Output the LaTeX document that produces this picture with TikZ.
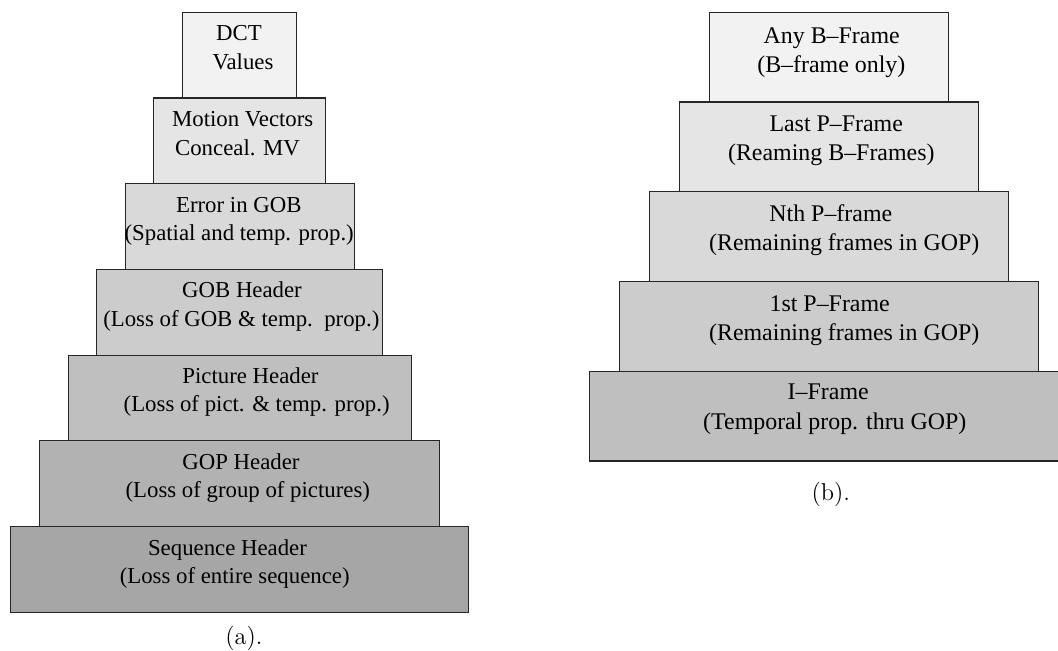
\documentclass[tikz,border=0pt]{standalone}
\usepackage{fontspec}
\newfontfamily\tms{Liberation Serif}
\begin{document}
\begin{tikzpicture}[x=0.5pt,y=-0.5pt,
  layer/.style={draw=black!85, line width=0.55pt, rectangle, inner sep=0pt},
  ltxt/.style={anchor=base, inner sep=0pt, font=\tms\fontsize{11.4}{13}\selectfont},
  rtxt/.style={anchor=base, inner sep=0pt, font=\tms\fontsize{11.95}{14}\selectfont},
  captxt/.style={anchor=base, inner sep=0pt, font=\fontsize{12.2}{14}\selectfont}]
\clip (0,0) rectangle (1058,651);

% (a) MPEG stream layers, from the top of the pyramid down
\node[layer, fill=black!5,  minimum width=57.2pt,  minimum height=42.85pt] (dct) at (239.7,55.15) {};
\node[layer, fill=black!10, minimum width=85.8pt,  minimum height=42.85pt] (mv)  at (239.7,140.85) {};
\node[layer, fill=black!15, minimum width=114.4pt, minimum height=42.85pt] (err) at (239.7,226.55) {};
\node[layer, fill=black!20, minimum width=143pt,   minimum height=42.85pt] (gob) at (239.7,312.25) {};
\node[layer, fill=black!25, minimum width=171.6pt, minimum height=42.85pt] (pic) at (239.7,397.95) {};
\node[layer, fill=black!30, minimum width=200.2pt, minimum height=42.85pt] (gop) at (239.7,483.65) {};
\node[layer, fill=black!35, minimum width=228.8pt, minimum height=42.85pt] (seq) at (239.7,569.35) {};

\node[ltxt] (dct-a) at (239,41) {DCT};
\node[ltxt] (dct-b) at (243,70) {Values};
\node[ltxt] (mv-a)  at (242.7,127) {Motion Vectors};
\node[ltxt] (mv-b)  at (237.5,155.5) {Conceal. MV};
\node[ltxt] (err-a) at (238.8,212.3) {Error in GOB};
\node[ltxt] (err-b) at (239.2,240.8) {(Spatial and temp. prop.)};
\node[ltxt] (gob-a) at (242,297.7) {GOB Header};
\node[ltxt] (gob-b) at (241.3,326.2) {(Loss of GOB \& temp.~\ prop.)};
\node[ltxt] (pic-a) at (250.5,383.3) {Picture Header};
\node[ltxt] (pic-b) at (256.7,411.8) {(Loss of pict. \& temp. prop.)};
\node[ltxt] (gop-a) at (241,469) {GOP Header};
\node[ltxt] (gop-b) at (247.8,497.5) {(Loss of group of pictures)};
\node[ltxt] (seq-a) at (227.5,555) {Sequence Header};
\node[ltxt] (seq-b) at (234.7,583.5) {(Loss of entire sequence)};

\node[captxt] (capa) at (244,644) {(a).};

% (b) frame types, from the top of the pyramid down
\node[layer, fill=black!5,  minimum width=119.5pt, minimum height=44.87pt] (bfr)  at (828.8,57.17) {};
\node[layer, fill=black!10, minimum width=149.5pt, minimum height=44.87pt] (lpf)  at (828.8,146.9) {};
\node[layer, fill=black!15, minimum width=179.5pt, minimum height=44.87pt] (npf)  at (828.8,236.65) {};
\node[layer, fill=black!20, minimum width=209.5pt, minimum height=44.87pt] (fpf)  at (828.8,326.4) {};
\node[layer, fill=black!25, minimum width=239.5pt, minimum height=44.87pt] (ifr)  at (828.8,416.1) {};

\node[rtxt] (bfr-a) at (831.7,43.3) {Any B–Frame};
\node[rtxt] (bfr-b) at (831.3,72.5) {(B–frame only)};
\node[rtxt] (lpf-a) at (836.2,131.7) {Last P–Frame};
\node[rtxt] (lpf-b) at (831.3,161) {(Reaming B–Frames)};
\node[rtxt] (npf-a) at (830.8,221.7) {Nth P–frame};
\node[rtxt] (npf-b) at (844.2,251) {(Remaining frames in GOP)};
\node[rtxt] (fpf-a) at (829.7,311.7) {1st P–Frame};
\node[rtxt] (fpf-b) at (844.2,340.5) {(Remaining frames in GOP)};
\node[rtxt] (ifr-a) at (828.2,400) {I–Frame};
\node[rtxt] (ifr-b) at (834.8,429.5) {(Temporal prop. thru GOP)};

\node[captxt] (capb) at (830.8,500) {(b).};
\end{tikzpicture}
\end{document}
